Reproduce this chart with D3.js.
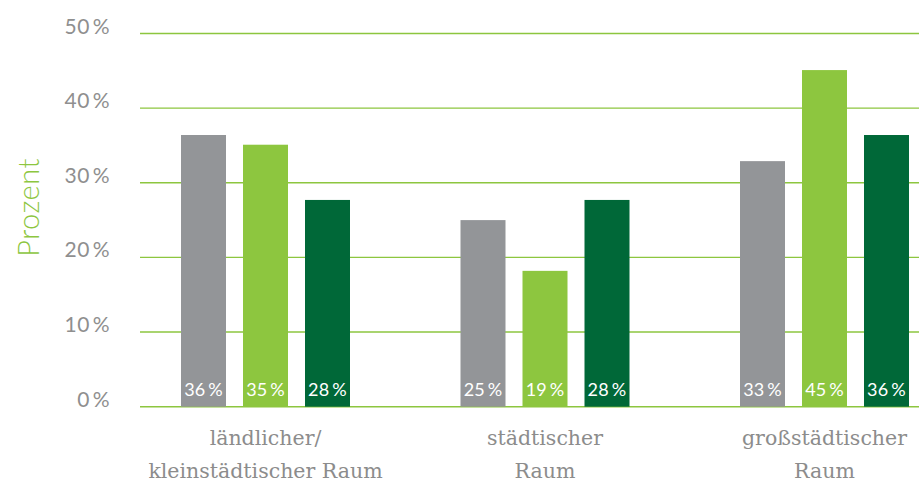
<!DOCTYPE html>
<html>
<head>
<meta charset="utf-8">
<script src="https://cdn.jsdelivr.net/npm/d3@7/dist/d3.min.js"></script>
<style>
  html, body { margin: 0; padding: 0; background: #ffffff; }
  svg { display: block; }
</style>
</head>
<body>
<svg id="chart" width="919" height="485"></svg>
<script>
// ---- data ----
const categories = [["ländlicher/", "kleinstädtischer Raum"], ["städtischer", "Raum"], ["großstädtischer", "Raum"]];
const seriesNames = ["Reihe 1", "Reihe 2", "Reihe 3"];
const seriesGray = [36.4, 25.0, 32.9];
const seriesLight = [35.1, 18.2, 45.1];
const seriesDark = [27.7, 27.7, 36.4];
const labelsGray = ["36", "25", "33"];
const labelsLight = ["35", "19", "45"];
const labelsDark = ["28", "28", "36"];
const yTicks = [0, 10, 20, 30, 40, 50];
const yTitle = "Prozent";
const colors = ["#939598", "#8dc63f", "#006838"];

// ---- layout ----
const svg = d3.select("#chart");
const W = 919, H = 485;
const y = d3.scaleLinear().domain([0, 50]).range([406.7, 33.5]);
const catKeys = categories.map((c, i) => i);
const xGroup = d3.scalePoint().domain(catKeys).range([265.5, 824.5]);
const xSeries = d3.scaleBand().domain(seriesNames).range([-84.5, 84.5]).paddingInner(0.2742).paddingOuter(0);

const allValues = [seriesGray, seriesLight, seriesDark];
const allLabels = [labelsGray, labelsLight, labelsDark];

// gridlines
svg.append("g").selectAll("line").data(yTicks).join("line")
  .attr("x1", 140).attr("x2", W)
  .attr("y1", d => y(d)).attr("y2", d => y(d))
  .attr("stroke", "#8dc63f").attr("stroke-width", 1.4);

// tick labels
svg.append("g").selectAll("text").data(yTicks).join("text")
  .attr("x", 110).attr("y", d => y(d))
  .attr("text-anchor", "end")
  .attr("font-family", "Lato, 'Open Sans', sans-serif")
  .attr("font-size", 21)
  .attr("letter-spacing", 0.4)
  .attr("fill", "#8f8f8f")
  .text(d => d + "\u2009%");

// y title
svg.append("text")
  .attr("transform", `translate(39,207.5) rotate(-90)`)
  .attr("text-anchor", "middle")
  .attr("font-family", "Lato, 'Open Sans', sans-serif")
  .attr("font-weight", 300)
  .attr("font-size", 29)
  .attr("letter-spacing", 0.5)
  .attr("fill", "#8dc63f")
  .text(yTitle);

// bars
const groups = svg.append("g").selectAll("g").data(catKeys).join("g")
  .attr("transform", d => `translate(${xGroup(d)},0)`);

groups.each(function(ci) {
  const g = d3.select(this);
  const rows = seriesNames.map((s, si) => ({ s, si, v: allValues[si][ci], lab: allLabels[si][ci] }));
  g.selectAll("rect").data(rows).join("rect")
    .attr("x", d => xSeries(d.s))
    .attr("width", xSeries.bandwidth())
    .attr("y", d => y(d.v))
    .attr("height", d => y(0) - y(d.v))
    .attr("fill", d => colors[d.si]);
  g.selectAll("text").data(rows).join("text")
    .attr("x", d => xSeries(d.s) + xSeries.bandwidth() / 2)
    .attr("y", 396)
    .attr("text-anchor", "middle")
    .attr("font-family", "Lato, 'Open Sans', sans-serif")
    .attr("font-size", 18)
    .attr("letter-spacing", 0.3)
    .attr("fill", "#ffffff")
    .text(d => d.lab + "\u2009%");
});

// category labels
const cat = svg.append("g").selectAll("text").data(catKeys).join("text")
  .attr("x", d => xGroup(d))
  .attr("text-anchor", "middle")
  .attr("font-family", "'DejaVu Serif', serif")
  .attr("font-size", 20.5)
  .attr("fill", "#8c8c8c");
cat.each(function(ci) {
  const t = d3.select(this);
  categories[ci].forEach((line, li) => {
    t.append("tspan").attr("x", xGroup(ci)).attr("y", 445 + li * 33).text(line);
  });
});
</script>
</body>
</html>
